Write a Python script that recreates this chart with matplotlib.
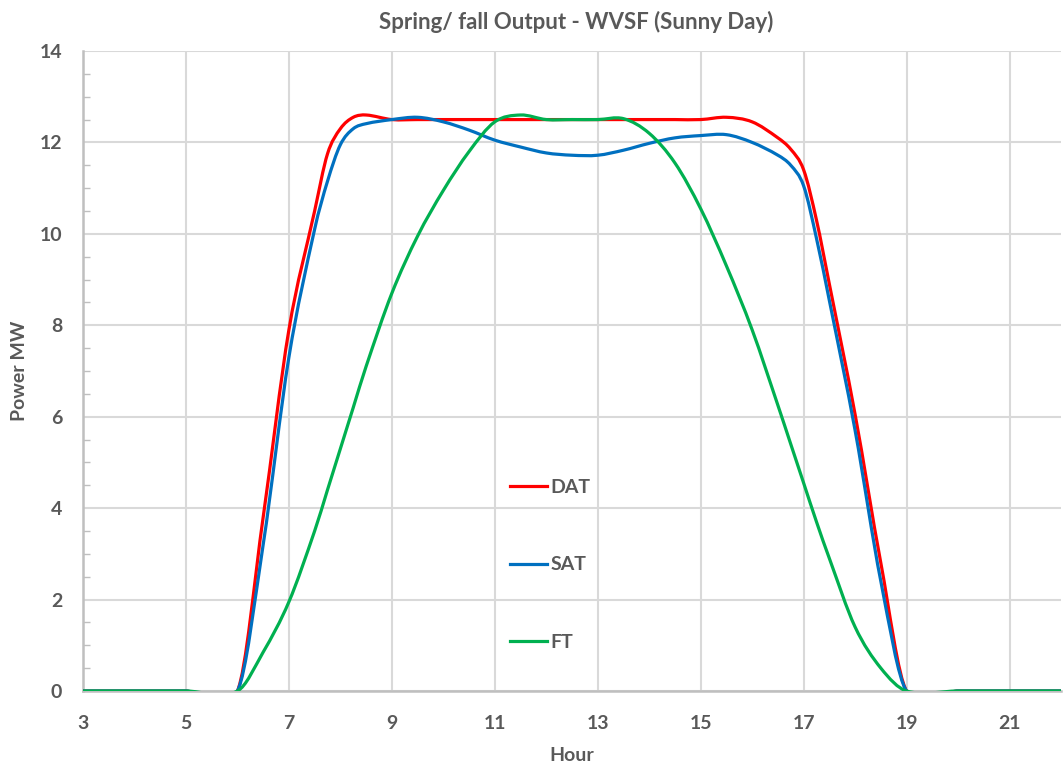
import numpy as np
import matplotlib
matplotlib.use("Agg")
import matplotlib.pyplot as plt
from matplotlib import font_manager
from matplotlib.path import Path
from matplotlib.patches import PathPatch, Rectangle
from matplotlib.lines import Line2D
from matplotlib.ticker import MultipleLocator

# pick the first family that really has a bold face installed
bold_fams = {f.name for f in font_manager.fontManager.ttflist
             if f.weight in ("bold", 700) or (isinstance(f.weight, int) and f.weight >= 700)}
family = next(n for n in ["Lato", "Open Sans", "Noto Sans", "Roboto",
                          "Liberation Sans", "DejaVu Sans"] if n in bold_fams)
plt.rcParams['font.family'] = [family, 'DejaVu Sans']

hours = [3, 4, 5, 6, 6.5, 7, 7.5, 7.75, 8, 8.25, 8.5, 9, 9.5, 10, 10.5, 11,
         11.5, 12, 12.5, 13, 13.5, 14, 14.5, 15, 15.5, 16, 16.5, 16.75, 17,
         17.25, 17.5, 18, 18.5, 19, 20, 21, 22]

dat = [0, 0, 0, 0, 3.8, 7.9, 10.5, 11.75, 12.3, 12.55, 12.6, 12.5, 12.5,
       12.5, 12.5, 12.5, 12.5, 12.5, 12.5, 12.5, 12.5, 12.5, 12.5, 12.5,
       12.55, 12.45, 12.1, 11.85, 11.4, 10.3, 8.9, 6.05, 2.8, 0, 0, 0, 0]

sat = [0, 0, 0, 0, 3.2, 7.3, 10.1, 11.15, 11.95, 12.3, 12.41, 12.5, 12.55,
       12.45, 12.27, 12.05, 11.9, 11.77, 11.72, 11.72, 11.83, 11.98, 12.1,
       12.15, 12.17, 12.0, 11.72, 11.5, 11.05, 9.9, 8.54, 5.7, 2.4, 0, 0, 0, 0]

ft = [0, 0, 0, 0, 0.85, 1.95, 3.5, 4.4, 5.3, 6.2, 7.1, 8.7, 9.95, 10.95,
      11.8, 12.45, 12.6, 12.5, 12.5, 12.5, 12.52, 12.2, 11.55, 10.55, 9.3,
      7.9, 6.25, 5.4, 4.55, 3.7, 2.9, 1.4, 0.5, 0, 0, 0, 0]

series = [("DAT", dat, "#ff0000"), ("SAT", sat, "#0070c0"), ("FT", ft, "#00b050")]

text_color = "#595959"


def smooth_path(x, y):
    # excel-like smoothed line: cubic bezier segments with catmull-rom slopes
    x = np.asarray(x, float)
    y = np.asarray(y, float)
    n = len(x)
    s = np.empty(n)
    s[0] = (y[1] - y[0]) / (x[1] - x[0])
    s[-1] = (y[-1] - y[-2]) / (x[-1] - x[-2])
    s[1:-1] = (y[2:] - y[:-2]) / (x[2:] - x[:-2])
    verts = [(x[0], y[0])]
    codes = [Path.MOVETO]
    for i in range(n - 1):
        h = (x[i + 1] - x[i]) / 3
        verts += [(x[i] + h, y[i] + s[i] * h),
                  (x[i + 1] - h, y[i + 1] - s[i + 1] * h),
                  (x[i + 1], y[i + 1])]
        codes += [Path.CURVE4] * 3
    return Path(verts, codes)


fig = plt.figure(figsize=(10.63, 7.65), dpi=100)
ax = fig.add_axes([83 / 1063, 1 - 691 / 765, (1061 - 83) / 1063, 640 / 765])

handles = []
for name, vals, color in series:
    p = PathPatch(smooth_path(hours, vals), fill=False, edgecolor=color,
                  lw=2.3, capstyle="round", joinstyle="round", zorder=3)
    clip = Rectangle((3, -0.035), 19, 14.1, transform=ax.transData)
    p.set_clip_path(clip)
    ax.add_patch(p)
    handles.append(Line2D([], [], color=color, lw=2.3, label=name))

ax.set_xlim(3, 22)
ax.set_ylim(0, 14)
ax.set_xticks(range(3, 23, 2))
ax.set_yticks(range(0, 15, 2))
ax.yaxis.set_minor_locator(MultipleLocator(0.5))
ax.grid(True, which="major", color="#d9d9d9", lw=1.5, zorder=0)
ax.set_axisbelow(True)

for side in ["top", "right"]:
    ax.spines[side].set_visible(False)
for side in ["left", "bottom"]:
    ax.spines[side].set_color("#bfbfbf")
    ax.spines[side].set_linewidth(1.8)

ax.tick_params(axis="x", length=0, pad=17, labelsize=14, labelcolor=text_color)
ax.tick_params(axis="y", which="major", length=0, pad=15, labelsize=14,
               labelcolor=text_color)
ax.tick_params(axis="y", which="minor", direction="in", length=5,
               color="#bfbfbf", width=1)
for lab in ax.get_xticklabels() + ax.get_yticklabels():
    lab.set_fontweight("bold")

ax.set_xlabel("Hour", fontsize=14, fontweight="bold", color=text_color,
              labelpad=11)
ax.set_ylabel("Power MW", fontsize=14, fontweight="bold", color=text_color,
              labelpad=8)
fig.text(576 / 1063, 1 - 22 / 765, "Spring/ fall Output - WVSF (Sunny Day)",
         ha="center", va="center", fontsize=16, fontweight="bold",
         color=text_color)

leg = fig.legend(handles=handles, loc="center left",
                 bbox_to_anchor=(500 / 1063, 1 - 565 / 765), frameon=False,
                 handlelength=1.9, handletextpad=0.2, labelspacing=3.1,
                 borderpad=0, prop={"size": 14, "weight": "bold"})
for t in leg.get_texts():
    t.set_color(text_color)

fig.savefig("out.png", dpi=100)
